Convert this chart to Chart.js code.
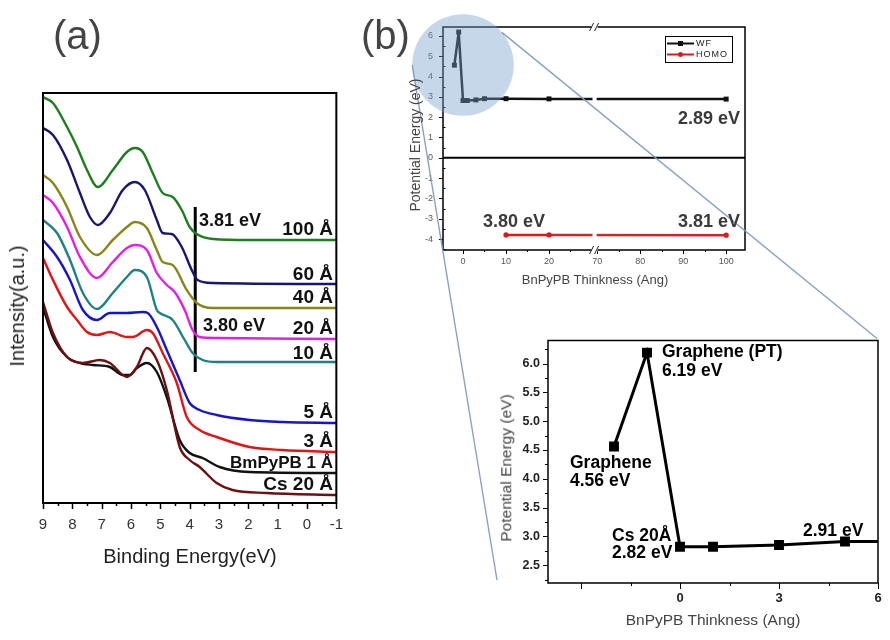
<!DOCTYPE html>
<html><head><meta charset="utf-8">
<script src="https://cdn.jsdelivr.net/npm/chart.js@4.4.1/dist/chart.umd.min.js"></script>
<style>
html,body{margin:0;padding:0;background:#fff}
#root{position:relative;width:890px;height:640px;overflow:hidden;background:#fff;font-family:"Liberation Sans",Arial,Helvetica,sans-serif}
#root canvas{position:absolute}
.t{position:absolute;white-space:nowrap;line-height:1}
</style></head><body>
<div id="root">
 <canvas id="ca" width="350" height="640" style="left:0;top:0"></canvas>
 <canvas id="cb" width="390" height="300" style="left:380px;top:0"></canvas>
 <canvas id="cc" width="400" height="310" style="left:490px;top:330px"></canvas>
 <canvas id="ov" width="890" height="640" style="left:0;top:0;pointer-events:none"></canvas>
</div>
<script>
// ---------- Panel (a): UPS spectra (binding energy eV, intensity a.u.) ----------
const e100 = [9, 8.66, 8.18, 7.84, 7.5, 7.13, 6.62, 6.14, 5.87, 5.6, 5.26, 4.92, 4.58, 4.27, 4.0, 3.76, 3.2, 2, -1];
const i100 = [406, 400, 376, 356, 333, 316, 333, 351, 355, 351, 330, 310, 306, 293, 276, 269, 264, 263, 263];
const e60 = [9, 8.66, 8.18, 7.74, 7.40, 7.13, 6.72, 6.28, 5.87, 5.53, 5.12, 4.92, 4.61, 4.27, 3.93, 3.73, 3.22, -1];
const i60 = [375, 368, 343, 310, 286, 278, 290, 313, 321, 313, 283, 270, 269, 256, 233, 223, 220, 219];
const e40 = [9, 8.66, 8.18, 7.74, 7.16, 6.62, 6.14, 5.87, 5.46, 5.12, 4.92, 4.58, 4.10, 3.76, 3.22, -1];
const i40 = [328, 320, 296, 266, 248, 263, 276, 281, 275, 253, 241, 238, 213, 200, 195, 195];
const e20 = [9, 8.66, 8.18, 7.74, 7.16, 6.62, 6.14, 5.87, 5.46, 5.12, 4.78, 4.51, 4.17, 3.90, 3.66, 3.08, -1];
const i20 = [308, 300, 276, 246, 225, 241, 255, 258, 253, 230, 218, 211, 193, 173, 166, 165, 164];
const e10 = [9, 8.52, 8.08, 7.64, 7.16, 6.62, 6.14, 5.87, 5.46, 5.12, 5.02, 4.58, 4.17, 3.90, 3.56, 3.08, -1];
const i10 = [283, 270, 243, 210, 194, 210, 226, 233, 226, 193, 190, 183, 163, 150, 143, 141, 141];
const e5 = [9, 8.52, 8.08, 7.64, 7.16, 6.72, 6.14, 5.60, 5.43, 5.12, 4.78, 4.34, 4.0, 3.66, 3.08, 1.96, 0.84, -1];
const i5 = [263, 246, 223, 193, 183, 190, 190, 191, 190, 176, 153, 123, 100, 93, 88, 83, 81, 80];
const e3 = [9, 8.66, 8.18, 7.84, 7.50, 7.16, 6.72, 6.14, 5.94, 5.46, 5.26, 4.92, 4.44, 4.10, 3.66, 3.08, 1.96, 0.84, -1];
const i3 = [245, 223, 196, 183, 171, 168, 171, 166, 166, 173, 170, 150, 120, 86, 73, 66, 56, 53, 51];
const e1 = [9, 8.66, 8.18, 7.74, 7.30, 6.72, 6.28, 6.04, 5.80, 5.46, 5.12, 4.78, 4.34, 4.0, 3.56, 2.98, 1.96, -1];
const i1 = [196, 166, 146, 140, 138, 136, 128, 128, 135, 140, 131, 106, 63, 50, 45, 36, 31, 30];
const eCs = [9, 8.66, 8.18, 7.64, 7.06, 6.72, 6.14, 5.80, 5.46, 5.12, 4.78, 4.34, 4.0, 3.66, 3.08, 2.54, 1.38, -1];
const iCs = [201, 170, 146, 140, 143, 140, 126, 136, 155, 143, 113, 56, 43, 36, 20, 13, 10, 8];
const onsetE = [3.81, 3.81];
const onsetI = [296, 131];
const spectraLabels = ['100 Å', '60 Å', '40 Å', '20 Å', '10 Å', '5 Å', '3 Å', 'BmPyPB 1 Å', 'Cs 20 Å'];
const onsetLabels = ['3.81 eV', '3.80 eV'];
const aTicks = [9, 8, 7, 6, 5, 4, 3, 2, 1, 0, -1];

// ---------- Panel (b): work function / HOMO vs thickness ----------
const thkWF = [-2, -1, 0, 1, 3, 5, 10, 20, 100];
const wfVals = [4.56, 6.19, 2.82, 2.82, 2.85, 2.91, 2.91, 2.90, 2.89];
const thkHOMO = [10, 20, 100];
const homoVals = [-3.80, -3.80, -3.81];
const bXTicks = [0, 10, 20, 70, 80, 90, 100];
const bXMinor = [5, 15, 25, 75, 85, 95];
const bYTicks = [-4, -3, -2, -1, 0, 1, 2, 3, 4, 5, 6];
const cXTicks = [0, 3, 6];
const cXMajorMarks = [-3, 0, 3, 6];
const cXMinorMarks = [-1.5, 1.5, 4.5];
const cYTicks = [2.5, 3.0, 3.5, 4.0, 4.5, 5.0, 5.5, 6.0];
const bLabels = ['2.89 eV', '3.80 eV', '3.81 eV'];
const cLabels = ['Graphene (PT)', '6.19 eV', 'Graphene', '4.56 eV', 'Cs 20Å', '2.82 eV', '2.91 eV'];
const legendNames = ['WF', 'HOMO'];

// broken axis mapping (30 .. 70 removed)
const breakLo = 30, breakHi = 70, breakGap = 1.2;
const toV = x => x <= breakLo ? x : x - breakHi + breakLo + breakGap;
const fromV = v => v <= breakLo + 0.5 ? v : v + breakHi - breakLo - breakGap;

const FONT = '"Liberation Sans", Arial, Helvetica, sans-serif';
Chart.defaults.font.family = FONT;
const pts = (xs, ys) => xs.map((x, i) => ({x: x, y: ys[i]}));

function specDs(xs, ys, color) {
  return {data: pts(xs, ys), borderColor: color, borderWidth: 2.4, pointRadius: 0,
          cubicInterpolationMode: 'monotone', fill: false};
}

function xMarks(ctx, chart, vals, len, map) {
  const s = chart.scales.x, b = chart.chartArea.bottom;
  ctx.beginPath();
  vals.forEach(v => { const p = Math.round(s.getPixelForValue(map ? map(v) : v)) + 0.5; ctx.moveTo(p, b); ctx.lineTo(p, b + len); });
  ctx.stroke();
}
function yMarks(ctx, chart, vals, len) {
  const s = chart.scales.y, l = chart.chartArea.left;
  ctx.beginPath();
  vals.forEach(v => { const p = Math.round(s.getPixelForValue(v)) + 0.5; ctx.moveTo(l, p); ctx.lineTo(l - len, p); });
  ctx.stroke();
}
function frame(ctx, chart, lw) {
  const a = chart.chartArea;
  ctx.lineWidth = lw; ctx.strokeStyle = '#000';
  ctx.strokeRect(a.left, a.top, a.right - a.left, a.bottom - a.top);
}

const baseOpts = {responsive: false, animation: false, events: [],
  plugins: {legend: {display: false}, tooltip: {enabled: false}}};

// ---------- Chart A ----------
const decoA = {id: 'decoA', afterDraw(chart) {
  const ctx = chart.ctx; ctx.save();
  frame(ctx, chart, 2);
  ctx.lineWidth = 1.5;
  xMarks(ctx, chart, aTicks, 6);
  const minor = []; for (let v = 8.5; v > -1; v -= 1) minor.push(v);
  xMarks(ctx, chart, minor, 3);
  ctx.restore();
}};
const chartA = new Chart(document.getElementById('ca'), {
  type: 'line',
  data: {datasets: [
    specDs(e100, i100, '#1e7d1e'),
    specDs(e60, i60, '#17176e'),
    specDs(e40, i40, '#86861a'),
    specDs(e20, i20, '#e41ee4'),
    specDs(e10, i10, '#1e8282'),
    specDs(e5, i5, '#1515d0'),
    specDs(e3, i3, '#e01515'),
    specDs(eCs, iCs, '#6c1010'),
    specDs(e1, i1, '#111111'),
    {data: pts(onsetE, onsetI), borderColor: '#000', borderWidth: 3, pointRadius: 0, tension: 0}
  ]},
  options: Object.assign({}, baseOpts, {
    layout: {padding: {left: 43, top: 93, right: 13, bottom: 0}},
    scales: {
      x: {type: 'linear', reverse: true, min: -1, max: 9,
          afterBuildTicks(s) { s.ticks = aTicks.map(v => ({value: v})); },
          afterFit(s) { s.height = 137; },
          grid: {display: false, drawTicks: true, tickLength: 6}, border: {display: false},
          ticks: {padding: 7, color: '#333', font: {size: 15}, maxRotation: 0, autoSkip: false,
                  callback: v => String(v)}},
      y: {type: 'linear', display: false, min: 0, max: 410}
    }
  }),
  plugins: [decoA]
});

// ---------- Chart B ----------
const decoB = {id: 'decoB',
  afterDatasetsDraw(chart) {
    const ctx = chart.ctx, a = chart.chartArea, sx = chart.scales.x, sy = chart.scales.y;
    ctx.save();
    const g0 = sx.getPixelForValue(breakLo) + 0.5, g1 = sx.getPixelForValue(breakLo + breakGap) - 0.5;
    ctx.fillStyle = '#fff';
    ctx.fillRect(g0, a.top + 1, g1 - g0, a.bottom - a.top - 2);
    const y0 = sy.getPixelForValue(0);
    ctx.strokeStyle = '#000'; ctx.lineWidth = 2;
    ctx.beginPath(); ctx.moveTo(a.left, y0); ctx.lineTo(a.right, y0); ctx.stroke();
    ctx.restore();
  },
  afterDraw(chart) {
    const ctx = chart.ctx, a = chart.chartArea, sx = chart.scales.x;
    ctx.save();
    frame(ctx, chart, 1.5);
    ctx.lineWidth = 1;
    xMarks(ctx, chart, bXTicks, 4, toV);
    xMarks(ctx, chart, bXMinor, 2, toV);
    yMarks(ctx, chart, bYTicks, 4);
    // inward minor y ticks
    const sy = chart.scales.y;
    ctx.beginPath();
    for (let v = -4.5; v < 6.5; v += 1) { const p = Math.round(sy.getPixelForValue(v)) + 0.5; ctx.moveTo(a.left, p); ctx.lineTo(a.left + 2.5, p); }
    ctx.stroke();
    // break marks
    const bx = sx.getPixelForValue(breakLo + breakGap / 2);
    ctx.lineWidth = 1; ctx.strokeStyle = '#222';
    [a.top, a.bottom].forEach(yy => {
      ctx.fillStyle = '#fff'; ctx.fillRect(bx - 3, yy - 1.5, 6, 3);
      ctx.beginPath();
      ctx.moveTo(bx - 5, yy + 4); ctx.lineTo(bx - 1, yy - 4);
      ctx.moveTo(bx, yy + 4); ctx.lineTo(bx + 4, yy - 4);
      ctx.stroke();
    });
    // legend
    const L = a.right - 80, T = a.top + 9, W = 67, H = 26;
    ctx.fillStyle = '#fff'; ctx.fillRect(L, T, W, H);
    ctx.strokeStyle = '#000'; ctx.lineWidth = 1; ctx.strokeRect(L + 0.5, T + 0.5, W, H);
    const ds = chart.data.datasets;
    [0, 1].forEach(i => {
      const yy = T + 7.5 + i * 11;
      ctx.strokeStyle = ds[i].borderColor; ctx.lineWidth = 2;
      ctx.beginPath(); ctx.moveTo(L + 2, yy); ctx.lineTo(L + 29, yy); ctx.stroke();
      ctx.fillStyle = ds[i].borderColor;
      if (i === 0) ctx.fillRect(L + 13, yy - 2.5, 5, 5);
      else { ctx.beginPath(); ctx.arc(L + 15.5, yy, 2.5, 0, Math.PI * 2); ctx.fill(); }
      ctx.fillStyle = '#222'; ctx.font = '9px ' + FONT; ctx.textBaseline = 'middle';
      try { ctx.letterSpacing = '1px'; } catch (e) {}
      ctx.fillText(legendNames[i], L + 31, yy + 0.5);
      try { ctx.letterSpacing = '0px'; } catch (e) {}
    });
    ctx.restore();
  }
};
const chartB = new Chart(document.getElementById('cb'), {
  type: 'line',
  data: {datasets: [
    {label: legendNames[0], data: pts(thkWF.map(toV), wfVals), borderColor: '#111', backgroundColor: '#111',
     borderWidth: 2.5, pointStyle: 'rect', pointRadius: 3.5, pointBackgroundColor: '#111', pointBorderWidth: 0, tension: 0},
    {label: legendNames[1], data: pts(thkHOMO.map(toV), homoVals), borderColor: '#d81c1c', backgroundColor: '#d81c1c',
     borderWidth: 2.5, pointStyle: 'circle', pointRadius: 2.6, pointBackgroundColor: '#d81c1c', pointBorderWidth: 0, tension: 0,
     segment: {borderColor: c => c.p0DataIndex >= 1 ? '#c42a2a' : '#e01818'}}
  ]},
  options: Object.assign({}, baseOpts, {
    layout: {padding: {left: 0, top: 27, right: 25, bottom: 0}},
    scales: {
      x: {type: 'linear', min: -4.65, max: 65.58,
          afterBuildTicks(s) { s.ticks = bXTicks.map(v => ({value: toV(v)})); },
          afterFit(s) { s.height = 50; },
          grid: {display: false, drawTicks: true, tickLength: 4}, border: {display: false},
          ticks: {padding: 2, color: '#555', font: {size: 9}, maxRotation: 0, autoSkip: false,
                  callback: v => String(Math.round(fromV(v)))}},
      y: {type: 'linear', min: -4.54, max: 6.44,
          afterBuildTicks(s) { s.ticks = bYTicks.map(v => ({value: v})); },
          afterFit(s) { s.width = 63; },
          grid: {display: false, drawTicks: true, tickLength: 4}, border: {display: false},
          ticks: {padding: 6, color: '#555', font: {size: 9}, callback: v => String(v)}}
    }
  }),
  plugins: [decoB]
});

// ---------- Chart C (zoomed inset) ----------
const decoC = {id: 'decoC', afterDraw(chart) {
  const ctx = chart.ctx; ctx.save();
  frame(ctx, chart, 1.5);
  ctx.lineWidth = 1;
  xMarks(ctx, chart, cXMajorMarks, 6);
  xMarks(ctx, chart, cXMinorMarks, 3);
  yMarks(ctx, chart, cYTicks, 5);
  const minor = []; for (let v = 2.25; v < 6.4; v += 0.5) minor.push(v);
  yMarks(ctx, chart, minor, 3);
  ctx.restore();
}};
const chartC = new Chart(document.getElementById('cc'), {
  type: 'line',
  data: {datasets: [
    {data: pts(thkWF, wfVals), borderColor: '#000', borderWidth: 3, pointStyle: 'rect', pointRadius: 7,
     pointBackgroundColor: '#000', pointBorderWidth: 0, tension: 0}
  ]},
  options: Object.assign({}, baseOpts, {
    layout: {padding: {left: 0, top: 10, right: 12, bottom: 0}},
    scales: {
      x: {type: 'linear', min: -4, max: 6,
          afterBuildTicks(s) { s.ticks = cXTicks.map(v => ({value: v})); },
          afterFit(s) { s.height = 57; },
          grid: {display: false, drawTicks: true, tickLength: 6}, border: {display: false},
          ticks: {padding: 2, color: '#222', font: {size: 13, weight: 'bold'}, maxRotation: 0, autoSkip: false,
                  callback: v => String(v)}},
      y: {type: 'linear', min: 2.19, max: 6.40,
          afterBuildTicks(s) { s.ticks = cYTicks.map(v => ({value: v})); },
          afterFit(s) { s.width = 58; },
          grid: {display: false, drawTicks: true, tickLength: 5}, border: {display: false},
          ticks: {padding: 3, color: '#222', font: {size: 12.5, weight: 'bold'}, callback: v => v.toFixed(1)}}
    }
  })
  , plugins: [decoC]
});

// ---------- Overlay: zoom circle + connector lines ----------
(function () {
  const ov = document.getElementById('ov').getContext('2d');
  const bOff = {x: 380, y: 0}, cOff = {x: 490, y: 330};
  const sx = chartB.scales.x, sy = chartB.scales.y;
  const zoomX = 0, zoomY = 4.57, zoomR = 2.5;
  const cx = bOff.x + sx.getPixelForValue(toV(zoomX)), cy = bOff.y + sy.getPixelForValue(zoomY);
  const r = Math.abs(sy.getPixelForValue(zoomY + zoomR) - sy.getPixelForValue(zoomY));
  ov.fillStyle = 'rgba(120,160,205,0.42)';
  ov.beginPath(); ov.arc(cx, cy, r, 0, Math.PI * 2); ov.fill();
  const ca = chartC.chartArea;
  const p1 = {x: cOff.x + ca.right - 1, y: cOff.y + ca.top - 2};
  const p2 = {x: cOff.x + ca.left - 51, y: cOff.y + ca.bottom - 3};
  const a1 = -40 * Math.PI / 180, a2 = Math.PI;
  ov.strokeStyle = 'rgba(130,155,192,0.95)'; ov.lineWidth = 1.4;
  ov.beginPath();
  ov.moveTo(cx + r * Math.cos(a1), cy + r * Math.sin(a1)); ov.lineTo(p1.x, p1.y);
  ov.moveTo(cx + r * Math.cos(a2), cy + r * Math.sin(a2)); ov.lineTo(p2.x, p2.y);
  ov.stroke();
})();

// ---------- Text ----------
const root = document.getElementById('root');
function addText(txt, x, cy, size, o) {
  o = o || {};
  const d = document.createElement('div');
  d.className = 't'; d.textContent = txt;
  d.style.fontSize = size + 'px';
  d.style.fontWeight = o.bold ? 'bold' : 'normal';
  d.style.color = o.color || '#000';
  d.style.left = x + 'px';
  d.style.top = (cy - size / 2) + 'px';
  let tr = '';
  if (o.align === 'right') tr = 'translateX(-100%)';
  if (o.align === 'center') tr = 'translateX(-50%)';
  if (o.rotate) { d.style.top = cy + 'px'; tr = 'translate(-50%,-50%) rotate(-90deg)'; }
  d.style.transform = tr;
  root.appendChild(d);
}
addText('(a)', 53, 35, 40, {color: '#444'});
addText('(b)', 361, 35, 40, {color: '#444'});
addText('Intensity(a.u.)', 17, 306, 20, {rotate: true, color: '#222'});
addText('Binding Energy(eV)', 190, 556, 20, {align: 'center', color: '#222'});
const aLabelY = [228.5, 273, 296, 327.5, 352, 411, 440.5, 462.5, 483];
spectraLabels.forEach((s, i) => addText(s, 333, aLabelY[i], i === 7 ? 17 : 19, {bold: true, align: 'right', color: '#111'}));
addText(onsetLabels[0], 199, 220, 18, {bold: true, color: '#111'});
addText(onsetLabels[1], 203, 325, 18, {bold: true, color: '#111'});

addText('Potential Energy (eV)', 415, 145, 14, {rotate: true, color: '#444'});
addText('BnPyPB Thinkness (Ang)', 595, 279, 13, {align: 'center', color: '#444'});
addText(bLabels[0], 740, 117.5, 18, {bold: true, align: 'right', color: '#3a3a3a'});
addText(bLabels[1], 483, 220.5, 18, {bold: true, color: '#3a3a3a'});
addText(bLabels[2], 740, 220.5, 18, {bold: true, align: 'right', color: '#3a3a3a'});

addText('Potential Energy (eV)', 506, 468, 15.5, {rotate: true, color: '#444'});
addText('BnPyPB Thinkness (Ang)', 713, 620, 15.5, {align: 'center', color: '#444'});
addText(cLabels[0], 662, 352, 17.5, {bold: true});
addText(cLabels[1], 662, 371, 17.5, {bold: true});
addText(cLabels[2], 570, 463, 17.5, {bold: true});
addText(cLabels[3], 570, 481, 17.5, {bold: true});
addText(cLabels[4], 612, 536, 17.5, {bold: true});
addText(cLabels[5], 612, 553, 17.5, {bold: true});
addText(cLabels[6], 803, 531, 17.5, {bold: true});
</script>
</body></html>
